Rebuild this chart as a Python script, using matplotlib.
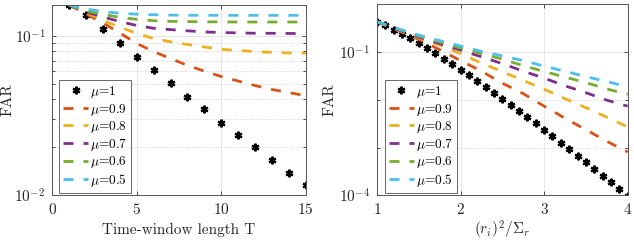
import matplotlib
matplotlib.use("Agg")
import matplotlib.pyplot as plt
from matplotlib.ticker import FixedLocator, NullFormatter
import numpy as np

plt.rcParams['font.family'] = ['cmr10']
plt.rcParams['mathtext.fontset'] = 'cm'
plt.rcParams['axes.formatter.use_mathtext'] = True

# ---------------- data: left panel ----------------
T = list(range(1, 16))
far_T_mu10 = [0.1567, 0.1355, 0.1101, 0.0907, 0.0741, 0.0611, 0.0504, 0.0415,
              0.0346, 0.0285, 0.0238, 0.0199, 0.0165, 0.0138, 0.01156]
far_T_mu09 = [0.1567, 0.1374, 0.1207, 0.1044, 0.0897, 0.0798, 0.0721, 0.0654,
              0.0601, 0.0556, 0.0521, 0.0488, 0.0461, 0.0441, 0.0421]
far_T_mu08 = [0.1567, 0.1406, 0.1251, 0.1139, 0.1037, 0.0964, 0.0920, 0.0885,
              0.0853, 0.0825, 0.0811, 0.0798, 0.0789, 0.0782, 0.0778]
far_T_mu07 = [0.1567, 0.1416, 0.1317, 0.1233, 0.1164, 0.1118, 0.1097, 0.1078,
              0.1061, 0.1052, 0.1046, 0.1041, 0.1040, 0.1038, 0.1034]
far_T_mu06 = [0.1567, 0.1436, 0.1368, 0.1312, 0.1273, 0.1248, 0.1237, 0.1232,
              0.1228, 0.1227, 0.1225, 0.1225, 0.1225, 0.1225, 0.1225]
far_T_mu05 = [0.1567, 0.1479, 0.1426, 0.1390, 0.1372, 0.1360, 0.1353, 0.1351,
              0.1349, 0.1349, 0.1349, 0.1349, 0.1349, 0.1349, 0.1349]

# ---------------- data: right panel ----------------
snr_star = [1.0, 1.1, 1.2, 1.3, 1.4, 1.5, 1.6, 1.7, 1.8, 1.9, 2.0, 2.1, 2.2, 2.3, 2.4, 2.5,
            2.6, 2.7, 2.8, 2.9, 3.0, 3.1, 3.2, 3.3, 3.4, 3.5, 3.6, 3.7, 3.8, 3.9, 4.0]
far_s_mu10 = [0.425, 0.362, 0.284, 0.231, 0.191, 0.150, 0.118, 0.0926, 0.0715, 0.0553,
              0.0420, 0.0321, 0.0244, 0.0185, 0.0139, 0.0104, 0.00779, 0.00583, 0.00431,
              0.00318, 0.00236, 0.00172, 0.00125, 0.00092, 0.00068, 0.000492, 0.000356,
              0.000259, 0.000188, 0.000134, 0.0000971]
snr_line = [1.0, 1.25, 1.5, 1.75, 2.0, 2.25, 2.5, 2.75, 3.0, 3.25, 3.5, 3.75, 4.0]
far_s_mu09 = [0.425, 0.278, 0.182, 0.111, 0.0655, 0.0394, 0.0221, 0.0134, 0.00731,
              0.0041, 0.00236, 0.00135, 0.00081]
far_s_mu08 = [0.425, 0.284, 0.196, 0.138, 0.0917, 0.0581, 0.0385, 0.0252, 0.0166,
              0.0105, 0.00681, 0.00431, 0.0027]
far_s_mu07 = [0.425, 0.291, 0.203, 0.149, 0.1086, 0.0786, 0.0566, 0.0394, 0.0282,
              0.0195, 0.0140, 0.00977, 0.00731]
far_s_mu06 = [0.425, 0.299, 0.213, 0.161, 0.119, 0.0917, 0.0704, 0.0514, 0.0389,
              0.0296, 0.0227, 0.0168, 0.0129]
far_s_mu05 = [0.425, 0.305, 0.223, 0.171, 0.132, 0.102, 0.0824, 0.0654, 0.0502,
              0.0391, 0.0303, 0.0240, 0.0185]

labels = [r'$\mu$=1', r'$\mu$=0.9', r'$\mu$=0.8', r'$\mu$=0.7', r'$\mu$=0.6', r'$\mu$=0.5']
colors = ['#D95319', '#EDB120', '#7E2F8E', '#77AC30', '#4DBEEE']

fig = plt.figure(figsize=(6.34, 2.40), dpi=100)
axL = fig.add_axes([0.0825, 0.1875, 0.3997, 0.7917])
axR = fig.add_axes([0.5946, 0.1858, 0.3954, 0.796])

star = dict(marker=(6, 2, 0), markersize=5.5, markeredgewidth=1.6, color='black', linestyle='none')
dash = (0, (3.6, 3.6))

def style(ax):
    ax.set_yscale('log')
    ax.tick_params(which='both', direction='in', top=True, right=True, length=3,
                   width=0.6, color='#333333', labelsize=11, labelcolor='#262626', pad=5)
    ax.tick_params(which='minor', length=2)
    for s in ax.spines.values():
        s.set_color('#555555')
        s.set_linewidth(0.7)
    ax.grid(True, which='major', color='#e3e3e3', linewidth=0.6, linestyle='-')
    ax.grid(True, which='minor', axis='y', color='#c8c8c8', linewidth=0.6, linestyle=':')
    ax.set_axisbelow(True)

# left
axL.plot(T, far_T_mu10, label=labels[0], **star)
for ys, c, lab in zip([far_T_mu09, far_T_mu08, far_T_mu07, far_T_mu06, far_T_mu05], colors, labels[1:]):
    axL.plot(T, ys, color=c, lw=2.0, linestyle=dash, label=lab)
style(axL)
axL.set_xlim(0, 15)
axL.set_ylim(0.01, 0.1567)
axL.set_xticks([0, 5, 10, 15])
axL.set_yticks([0.01, 0.1])
axL.set_yticklabels([r'$10^{-2}$', r'$10^{-1}$'])
axL.yaxis.set_minor_locator(FixedLocator([0.02, 0.03, 0.04, 0.05, 0.06, 0.07, 0.08, 0.09]))
axL.yaxis.set_minor_formatter(NullFormatter())
axL.set_xlabel('Time-window length T', fontsize=11, color='#262626', labelpad=4)
axL.set_ylabel('FAR', fontsize=11, color='#262626')
axL.yaxis.set_label_coords(-0.147, 0.5)

# right
axR.plot(snr_star, far_s_mu10, label=labels[0], **star)
for ys, c, lab in zip([far_s_mu09, far_s_mu08, far_s_mu07, far_s_mu06, far_s_mu05], colors, labels[1:]):
    axR.plot(snr_line, ys, color=c, lw=2.0, linestyle=dash, label=lab)
style(axR)
axR.set_xlim(1, 4)
axR.set_ylim(1e-4, 0.98)
axR.set_xticks([1, 2, 3, 4])
axR.set_yticks([1e-4, 1e-1])
axR.set_yticklabels([r'$10^{-4}$', r'$10^{-1}$'])
axR.yaxis.set_minor_locator(FixedLocator([1e-3, 1e-2]))
axR.yaxis.set_minor_formatter(NullFormatter())
axR.set_xlabel(r'$(r_i)^2/\Sigma_r$', fontsize=11, color='#262626', labelpad=1)
axR.set_ylabel('FAR', fontsize=11, color='#262626')
axR.yaxis.set_label_coords(-0.16, 0.5)

for ax, x0, y0 in [(axL, 0.026, 0.011), (axR, 0.031, 0.013)]:
    leg = ax.legend(loc='lower left', bbox_to_anchor=(x0, y0), borderaxespad=0,
                    fontsize=9.6, frameon=True, fancybox=False, handlelength=1.9,
                    handletextpad=0.15, labelspacing=0.12, borderpad=0.3)
    leg.get_frame().set_edgecolor('#404040')
    leg.get_frame().set_linewidth(0.7)

fig.savefig('out.png', dpi=100)
